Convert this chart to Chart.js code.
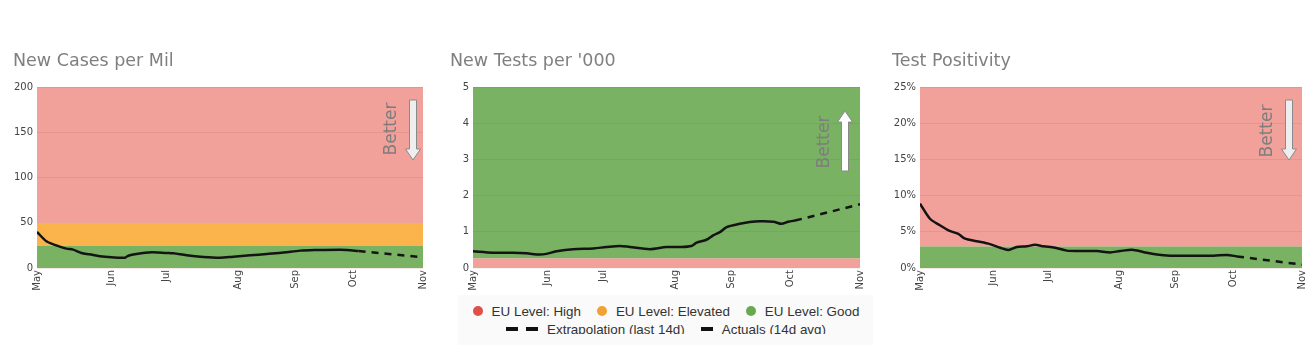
<!DOCTYPE html>
<html>
<head>
<meta charset="utf-8">
<script src="https://cdn.jsdelivr.net/npm/chart.js@4.4.1/dist/chart.umd.min.js"></script>
<style>
  html, body { margin: 0; padding: 0; background: #fff; width: 1310px; height: 363px; overflow: hidden; }
  .box { position: absolute; }
  #legendBg { position: absolute; left: 458px; top: 295px; width: 415px; height: 50px; background: #fafafa; }
  #legend { position: absolute; left: 440px; top: 302px; width: 452px; height: 32px; overflow: hidden;
            font: 13.4px 'Liberation Sans', Arial, sans-serif; color: #333; }
  .lrow { height: 18px; display: flex; justify-content: center; align-items: center; white-space: nowrap; }
  .item { display: flex; align-items: center; margin: 0 8px; }
  .dot { width: 10px; height: 10px; border-radius: 50%; margin-right: 9px; }
  .dash { height: 4px; background: #111; }
</style>
</head>
<body>
<div id="legendBg"></div>
<div class="box" style="left:13px;top:40px;width:418px;height:253px"><canvas id="k1"></canvas></div>
<div class="box" style="left:450px;top:40px;width:418px;height:253px"><canvas id="k2"></canvas></div>
<div class="box" style="left:892px;top:40px;width:418px;height:253px"><canvas id="k3"></canvas></div>
<div id="legend"></div>
<script>
// ---------- x axis (months) ----------
const monthLabels  = ['May', 'Jun', 'Jul', 'Aug', 'Sep', 'Oct', 'Nov'];
const monthTickPos = [0, 35.5, 61.8, 96, 123, 151, 184];

// ---------- New Cases per Mil ----------
const casesX = [0, 4.5, 9.2, 14, 17.2, 21.2, 25, 30, 35.5, 41.9, 43.5, 47.4, 54.6, 61.8, 65, 71.3, 79.3, 87.2, 93.6, 101.6, 109.5, 117.5, 125.4, 133.4, 144.5, 147.7, 153.3];
const casesY = [39.8, 29.5, 25, 21.4, 20.3, 16.6, 15.1, 12.9, 11.8, 11.4, 13.6, 15.5, 17.3, 16.6, 16.2, 14, 12.2, 11.4, 12.5, 14, 15.5, 17, 19.2, 19.9, 20.3, 19.9, 18.8];
const casesExtrapX = [153.3, 184];
const casesExtrapY = [18.8, 11.8];
const casesBandEdges  = [0, 25, 50, 200];
const casesBandLevels = ['Good', 'Elevated', 'High'];
const casesTicks = [0, 50, 100, 150, 200];

// ---------- New Tests per '000 ----------
const testsX = [0, 9.5, 19, 25.4, 31.7, 34.9, 39.7, 47.6, 57.1, 63.4, 69.8, 74.6, 84.1, 92, 98.3, 103.9, 106.3, 111, 114.2, 117.4, 120.6, 126.9, 131.6, 136.4, 142.8, 146.7, 149.9, 153.1];
const testsY = [0.46, 0.42, 0.42, 0.405, 0.37, 0.39, 0.46, 0.52, 0.54, 0.58, 0.61, 0.58, 0.52, 0.58, 0.58, 0.61, 0.70, 0.78, 0.90, 0.99, 1.13, 1.22, 1.27, 1.29, 1.28, 1.22, 1.28, 1.31];
const testsExtrapX = [153.1, 184];
const testsExtrapY = [1.31, 1.76];
const testsBandEdges  = [0, 0.27, 5];
const testsBandLevels = ['High', 'Good'];
const testsTicks = [0, 1, 2, 3, 4, 5];

// ---------- Test Positivity (%) ----------
const posX = [0, 4.8, 9.6, 13.7, 18.5, 21.7, 27.3, 33.7, 38.6, 42.6, 46.6, 51.4, 55.4, 59.5, 65.1, 70.7, 77.1, 85.2, 91.6, 96.4, 102.8, 109.3, 114.1, 120.5, 128.6, 141.4, 147.8, 152.7];
const posY = [8.9, 6.8, 5.9, 5.2, 4.7, 4.05, 3.7, 3.3, 2.8, 2.5, 2.9, 3.0, 3.2, 3.0, 2.8, 2.4, 2.35, 2.35, 2.15, 2.35, 2.5, 2.1, 1.85, 1.7, 1.7, 1.7, 1.8, 1.6];
const posExtrapX = [152.7, 184];
const posExtrapY = [1.6, 0.46];
const posBandEdges  = [0, 3, 25];
const posBandLevels = ['Good', 'High'];
const posTicks = [0, 5, 10, 15, 20, 25];

// ---------- legend ----------
const legendLevels = ['High', 'Elevated', 'Good'];
const legendLineLabels = ['Extrapolation (last 14d)', 'Actuals (14d avg)'];

const bandColors = { High: '#f2a09a', Elevated: '#fbb34c', Good: '#7ab263' };
const dotColors  = { High: '#dd5147', Elevated: '#f0a234', Good: '#6aa84f' };

const bandsPlugin = {
  id: 'bands',
  beforeDraw(chart, args, opts) {
    const { ctx, chartArea: a } = chart;
    const y = chart.scales.y;
    ctx.save();
    for (let i = 0; i < opts.levels.length; i++) {
      const top = y.getPixelForValue(opts.edges[i + 1]);
      const bot = y.getPixelForValue(opts.edges[i]);
      ctx.fillStyle = bandColors[opts.levels[i]];
      ctx.fillRect(a.left, top, a.right - a.left, bot - top);
    }
    ctx.restore();
  }
};

const betterPlugin = {
  id: 'better',
  afterDatasetsDraw(chart, args, o) {
    const { ctx, chartArea: a } = chart;
    ctx.save();
    ctx.translate(a.right - o.textDx, a.top + o.textDy);
    ctx.rotate(-Math.PI / 2);
    ctx.font = '17px "DejaVu Sans"';
    ctx.fillStyle = '#7d7d7d';
    ctx.textAlign = 'center';
    ctx.textBaseline = 'middle';
    ctx.fillText('Better', 0, 0);
    ctx.restore();

    const ax = a.right - o.arrowDx;
    const y0 = a.top + o.arrowTop, y1 = a.top + o.arrowBottom;
    const sw = 3.5, hw = 7.5, hl = 11;
    ctx.save();
    ctx.beginPath();
    if (o.dir === 'down') {
      ctx.moveTo(ax - sw, y0); ctx.lineTo(ax + sw, y0); ctx.lineTo(ax + sw, y1 - hl);
      ctx.lineTo(ax + hw, y1 - hl); ctx.lineTo(ax, y1); ctx.lineTo(ax - hw, y1 - hl);
      ctx.lineTo(ax - sw, y1 - hl); ctx.closePath();
    } else {
      ctx.moveTo(ax - sw, y1); ctx.lineTo(ax + sw, y1); ctx.lineTo(ax + sw, y0 + hl);
      ctx.lineTo(ax + hw, y0 + hl); ctx.lineTo(ax, y0); ctx.lineTo(ax - hw, y0 + hl);
      ctx.lineTo(ax - sw, y0 + hl); ctx.closePath();
    }
    ctx.fillStyle = o.dir === 'down' ? '#eeeeee' : '#ffffff';
    ctx.fill();
    ctx.strokeStyle = '#8a8a8a';
    ctx.lineWidth = 1;
    ctx.stroke();
    ctx.restore();
  }
};

function pts(xs, ys) { return xs.map((x, i) => ({ x: x, y: ys[i] })); }

function makeChart(id, cfg) {
  return new Chart(document.getElementById(id), {
    type: 'line',
    data: {
      datasets: [
        { label: 'Actuals (14d avg)', data: pts(cfg.x, cfg.y), borderColor: '#141414', borderWidth: 2.5,
          pointRadius: 0, tension: 0.3, fill: false },
        { label: 'Extrapolation (last 14d)', data: pts(cfg.ex, cfg.ey), borderColor: '#141414', borderWidth: 2.5,
          borderDash: [7, 6], pointRadius: 0, fill: false }
      ]
    },
    plugins: [bandsPlugin, betterPlugin],
    options: {
      responsive: true, maintainAspectRatio: false, animation: false,
      layout: { padding: { left: 0, right: 8, top: 0, bottom: 0 } },
      plugins: {
        legend: { display: false },
        tooltip: { enabled: false },
        title: { display: true, text: cfg.title, align: 'start', color: '#7f7f7f',
                 font: { family: 'DejaVu Sans', size: 17.5, weight: 'normal' }, padding: { top: 11, bottom: 15 } },
        bands: { edges: cfg.edges, levels: cfg.levels },
        better: cfg.better
      },
      scales: {
        x: {
          type: 'linear', min: 0, max: 184,
          grid: { display: false }, border: { display: false },
          afterBuildTicks: s => { s.ticks = monthTickPos.map(v => ({ value: v })); },
          ticks: { autoSkip: false, minRotation: 90, maxRotation: 90, padding: -6, color: '#444',
                   font: { family: 'DejaVu Sans', size: 10 }, callback: (v, i) => monthLabels[i] },
          afterFit: s => { s.height = 25; }
        },
        y: {
          min: cfg.ticks[0], max: cfg.ticks[cfg.ticks.length - 1],
          afterBuildTicks: s => { s.ticks = cfg.ticks.map(v => ({ value: v })); },
          ticks: { color: '#444', font: { family: 'DejaVu Sans', size: 10 }, padding: 4,
                   callback: cfg.fmt },
          grid: { color: cfg.gridColor, drawTicks: false }, border: { display: false },
          afterFit: s => { s.width = cfg.yw; }
        }
      }
    }
  });
}

makeChart('k1', { title: 'New Cases per Mil', x: casesX, y: casesY, ex: casesExtrapX, ey: casesExtrapY,
  edges: casesBandEdges, levels: casesBandLevels, ticks: casesTicks, fmt: v => String(v),
  gridColor: 'rgba(170,60,50,0.12)', yw: 24,
  better: { dir: 'down', textDx: 31, textDy: 42, arrowDx: 10, arrowTop: 13, arrowBottom: 73 } });

makeChart('k2', { title: "New Tests per '000", x: testsX, y: testsY, ex: testsExtrapX, ey: testsExtrapY,
  edges: testsBandEdges, levels: testsBandLevels, ticks: testsTicks, fmt: v => String(v),
  gridColor: 'rgba(0,0,0,0.05)', yw: 23,
  better: { dir: 'up', textDx: 35, textDy: 55, arrowDx: 15, arrowTop: 24, arrowBottom: 84 } });

makeChart('k3', { title: 'Test Positivity', x: posX, y: posY, ex: posExtrapX, ey: posExtrapY,
  edges: posBandEdges, levels: posBandLevels, ticks: posTicks, fmt: v => v + '%',
  gridColor: 'rgba(170,60,50,0.12)', yw: 28,
  better: { dir: 'down', textDx: 34, textDy: 44, arrowDx: 13, arrowTop: 13, arrowBottom: 73 } });

// ---------- HTML legend ----------
const legend = document.getElementById('legend');
const row1 = document.createElement('div'); row1.className = 'lrow';
legendLevels.forEach(l => {
  const it = document.createElement('div'); it.className = 'item';
  const d = document.createElement('span'); d.className = 'dot'; d.style.background = dotColors[l];
  const t = document.createElement('span'); t.textContent = 'EU Level: ' + l;
  it.appendChild(d); it.appendChild(t); row1.appendChild(it);
});
const row2 = document.createElement('div'); row2.className = 'lrow';
legendLineLabels.forEach((lab, i) => {
  const it = document.createElement('div'); it.className = 'item';
  const mk = document.createElement('span'); mk.style.display = 'flex'; mk.style.marginRight = '9px';
  const n = i === 0 ? 2 : 1;
  for (let k = 0; k < n; k++) {
    const b = document.createElement('span'); b.className = 'dash';
    b.style.width = '12px';
    if (k > 0) b.style.marginLeft = '8px';
    mk.appendChild(b);
  }
  const t = document.createElement('span'); t.textContent = lab;
  it.appendChild(mk); it.appendChild(t); row2.appendChild(it);
});
legend.appendChild(row1); legend.appendChild(row2);
</script>
</body>
</html>
